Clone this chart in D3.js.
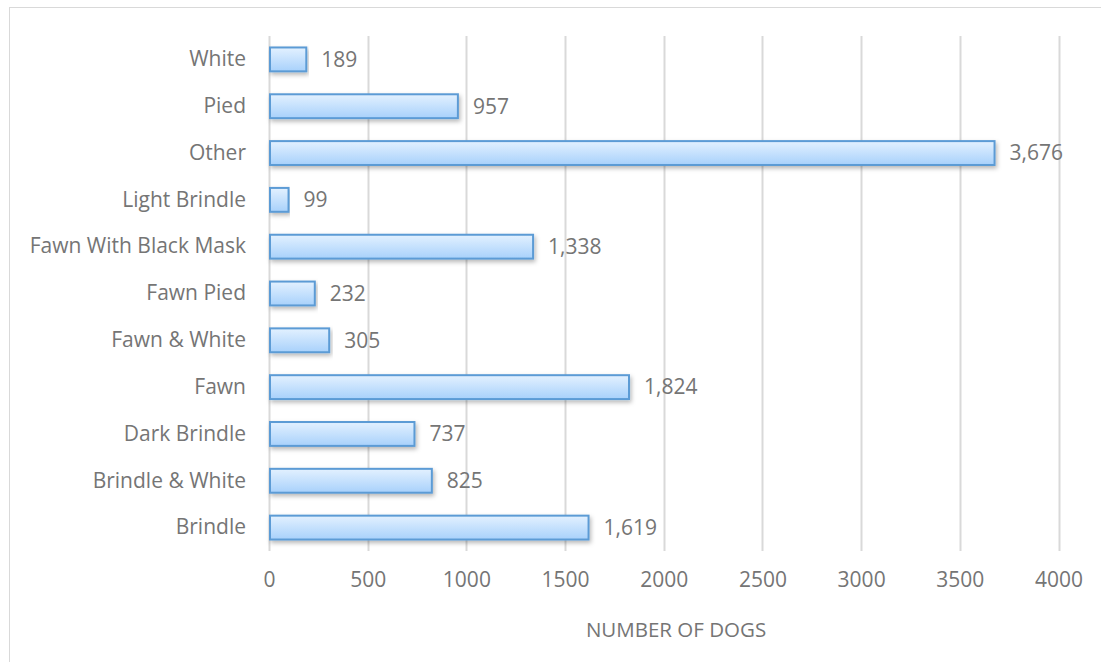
<!DOCTYPE html>
<html><head><meta charset="utf-8">
<script src="https://cdn.jsdelivr.net/npm/d3@7"></script>
<style>body{margin:0;background:#fff;} svg{display:block;} text{font-family:"Open Sans",sans-serif;fill:#757575;}</style>
</head><body>
<svg id="c" width="1101" height="662"></svg>
<script>
const categories = ["White","Pied","Other","Light Brindle","Fawn With Black Mask","Fawn Pied","Fawn & White","Fawn","Dark Brindle","Brindle & White","Brindle"];
const counts = [189,957,3676,99,1338,232,305,1824,737,825,1619];
const xTicks = [0,500,1000,1500,2000,2500,3000,3500,4000];
const axisTitle = "NUMBER OF DOGS";

const svg = d3.select("#c");
const defs = svg.append("defs");
const grad = defs.append("linearGradient").attr("id","bg").attr("x1",0).attr("y1",0).attr("x2",0).attr("y2",1);
grad.append("stop").attr("offset","0%").attr("stop-color","#e3f1ff");
grad.append("stop").attr("offset","100%").attr("stop-color","#a8d1fb");
const f = defs.append("filter").attr("id","sh").attr("x","-5%").attr("y","-30%").attr("width","110%").attr("height","180%");
f.append("feDropShadow").attr("dx",1.5).attr("dy",2.5).attr("stdDeviation",2).attr("flood-color","#000").attr("flood-opacity",0.28);

svg.append("rect").attr("x",9.5).attr("y",7.5).attr("width",1200).attr("height",800)
  .attr("fill","none").attr("stroke","#d9d9d9").attr("stroke-width",1);

const x = d3.scaleLinear().domain([0,4000]).range([269,1058.5]);
const y = d3.scaleBand().domain(categories).range([36,551]).paddingInner(0.49).paddingOuter(0.245);

// gridlines
svg.append("g").selectAll("line").data(xTicks).join("line")
  .attr("x1",d=>Math.round(x(d))+0.5).attr("x2",d=>Math.round(x(d))+0.5)
  .attr("y1",36).attr("y2",551).attr("stroke","#d9d9d9").attr("stroke-width",2);

const lblColor = "#757575";
// x axis tick labels
const xa = d3.axisBottom(x).tickValues(xTicks).tickSize(0).tickPadding(0).tickFormat(d3.format("d"));
const gx = svg.append("g").attr("transform","translate(0,572)").call(xa);
gx.select(".domain").remove();
gx.selectAll("text").attr("font-size",21).attr("dy","0.71em").style("font-family","'Open Sans',sans-serif").attr("fill",lblColor);

// y axis labels
const ya = d3.axisLeft(y).tickSize(0).tickPadding(23);
const gy = svg.append("g").attr("transform","translate(269,0)").call(ya);
gy.select(".domain").remove();
gy.selectAll("text").attr("font-size",21).style("font-family","'Open Sans',sans-serif").attr("fill",lblColor);

// bars
const data = categories.map((c,i)=>({c, v:counts[i]}));
svg.append("g").selectAll("rect").data(data).join("rect")
  .attr("x",x(0)+1).attr("y",d=>y(d.c)).attr("width",d=>x(d.v)-x(0)-1).attr("height",y.bandwidth())
  .attr("fill","url(#bg)").attr("stroke","#5b9bd5").attr("stroke-width",2).attr("filter","url(#sh)");

// value labels
const fmt = d3.format(",");
svg.append("g").selectAll("text").data(data).join("text")
  .attr("x",d=>x(d.v)+15).attr("y",d=>y(d.c)+y.bandwidth()/2).attr("dy","0.35em")
  .attr("font-size",21).attr("fill",lblColor).text(d=>fmt(d.v));

// axis title
svg.append("text").attr("x",676).attr("y",630).attr("dy","0.35em").attr("text-anchor","middle")
  .attr("font-size",20.5).attr("fill",lblColor).text(axisTitle);
</script>
</body></html>
